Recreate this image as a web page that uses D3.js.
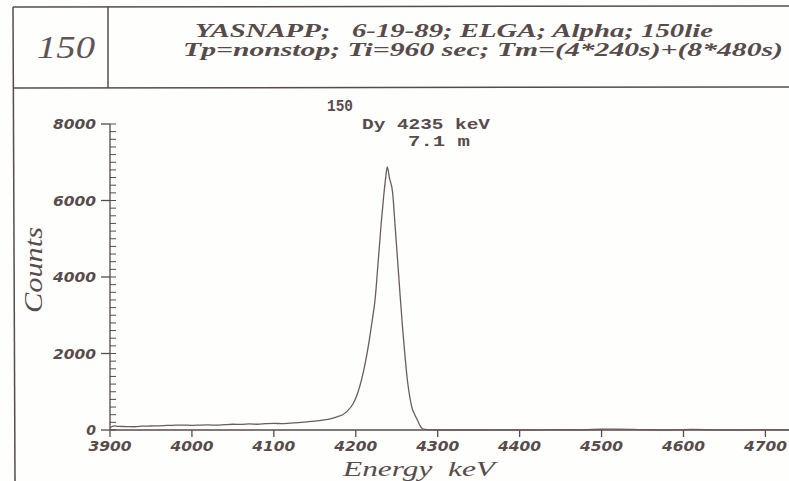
<!DOCTYPE html>
<html><head><meta charset="utf-8">
<script src="https://cdn.jsdelivr.net/npm/d3@7"></script>
<style>
html,body{margin:0;padding:0;background:#fefefc;}
svg{display:block;}
</style></head>
<body>
<svg id="chart" width="789" height="481"></svg>
<script>
// ---- data ----
const headerLine1 = "YASNAPP;   6-19-89; ELGA; Alpha; 150lie";
const headerLine2 = "Tp=nonstop; Ti=960 sec; Tm=(4*240s)+(8*480s)";
const annotation = ["150", "Dy 4235 keV", "7.1 m"];
const xTicks = [3900, 4000, 4100, 4200, 4300, 4400, 4500, 4600, 4700];
const yTicks = [0, 2000, 4000, 6000, 8000];
const energy = [3900,3905,3910,3920,3930,3940,3950,3960,3970,3980,3990,4000,4010,4020,4030,4040,4050,4060,4070,4080,4090,4100,4110,4120,4130,4140,4150,4160,4170,4178,4184,4190,4197,4202,4207,4212,4216.5,4220,4223.5,4227.5,4231,4234,4236.5,4238.5,4241,4245,4248,4251,4254,4257,4260,4263,4266,4269,4272,4275,4278,4281,4285,4290,4300,4320,4350,4380,4410,4440,4470,4500,4520,4550,4580,4610,4640,4670,4700,4730];
const counts = [60,110,95,90,85,100,105,110,120,125,130,120,130,135,125,140,150,145,160,150,165,175,165,180,195,210,230,260,300,350,400,500,700,950,1310,1800,2350,2850,3400,4450,5400,6100,6600,6880,6600,6200,5330,4450,3550,2700,1950,1300,850,550,400,270,130,40,15,5,3,0,0,5,0,10,5,20,25,10,0,15,5,0,10,5];

// ---- drawing ----
const ink = "#574b4c";
const svg = d3.select("#chart");
const x = d3.scaleLinear().domain([3900, 4730]).range([110, 790]);
const y = d3.scaleLinear().domain([0, 8000]).range([430, 124]);

// header frame
const frame = svg.append("g").attr("stroke", ink).attr("stroke-width", 1.5).attr("fill", "none");
frame.append("line").attr("x1", 13).attr("y1", 7).attr("x2", 789).attr("y2", 6);
frame.append("line").attr("x1", 13).attr("y1", 7).attr("x2", 15).attr("y2", 481);
frame.append("line").attr("x1", 108).attr("y1", 7).attr("x2", 108).attr("y2", 88);
frame.append("line").attr("x1", 13).attr("y1", 88).attr("x2", 789).attr("y2", 87);

svg.append("text").text("150")
  .attr("x", 37).attr("y", 58)
  .attr("font-family", "Liberation Serif").attr("font-style", "italic")
  .attr("font-size", 32).attr("fill", "#5f5556")
  .attr("textLength", 58).attr("lengthAdjust", "spacingAndGlyphs");

svg.append("text").text(headerLine1)
  .attr("x", 195).attr("y", 37).attr("xml:space", "preserve")
  .attr("font-family", "Liberation Serif").attr("font-style", "italic").attr("font-weight", "bold")
  .attr("font-size", 18).attr("fill", ink)
  .attr("textLength", 518).attr("lengthAdjust", "spacingAndGlyphs");
svg.append("text").text(headerLine2)
  .attr("x", 183).attr("y", 56)
  .attr("font-family", "Liberation Serif").attr("font-style", "italic").attr("font-weight", "bold")
  .attr("font-size", 18).attr("fill", ink)
  .attr("textLength", 600).attr("lengthAdjust", "spacingAndGlyphs");

// annotation
const annX = [327, 362, 408], annY = [111, 129, 146], annW = [26, 128, 62], annS = [16, 15, 15];
annotation.forEach((t, i) => {
  svg.append("text").text(t).attr("x", annX[i]).attr("y", annY[i])
    .attr("font-family", "Liberation Mono").attr("font-weight", "bold")
    .attr("font-size", annS[i]).attr("fill", ink).attr("xml:space", "preserve")
    .attr("textLength", annW[i]).attr("lengthAdjust", "spacingAndGlyphs");
});

// axes
const axisG = svg.append("g").attr("stroke", ink).attr("stroke-width", 1.3);
axisG.append("line").attr("x1", x(3900)).attr("x2", 789).attr("y1", y(0)).attr("y2", y(0));
axisG.append("line").attr("x1", x(3900)).attr("x2", x(3900)).attr("y1", y(0)).attr("y2", y(8000));
xTicks.forEach(v => {
  axisG.append("line").attr("x1", x(v)).attr("x2", x(v)).attr("y1", y(0)).attr("y2", y(0) + 7);
});
yTicks.forEach(v => {
  axisG.append("line").attr("x1", x(3900) - 9).attr("x2", x(3900)).attr("y1", y(v)).attr("y2", y(v));
});
d3.range(0, 8001, 200).forEach(v => {
  axisG.append("line").attr("x1", x(3900)).attr("x2", x(3900) + 6).attr("y1", y(v)).attr("y2", y(v)).attr("stroke-width", 1);
});

const tickFont = g => g.attr("font-family", "DejaVu Sans").attr("font-weight", "bold")
  .attr("font-style", "italic").attr("font-size", 14).attr("fill", ink)
  .attr("textLength", 43).attr("lengthAdjust", "spacingAndGlyphs");
xTicks.forEach(v => {
  svg.append("text").text(v).attr("x", x(v)).attr("y", 451).attr("text-anchor", "middle").call(tickFont);
});
yTicks.forEach(v => {
  const t = svg.append("text").text(v).attr("x", 96).attr("y", y(v) + 5).attr("text-anchor", "end").call(tickFont);
  if (v === 0) t.attr("textLength", null);
});

// axis titles
svg.append("text").text("Counts")
  .attr("transform", "translate(42,270) rotate(-90)").attr("text-anchor", "middle")
  .attr("font-family", "Liberation Serif").attr("font-style", "italic")
  .attr("font-size", 26).attr("fill", ink)
  .attr("textLength", 86).attr("lengthAdjust", "spacingAndGlyphs");
svg.append("text").text("Energy  keV").attr("xml:space", "preserve")
  .attr("x", 343).attr("y", 476)
  .attr("font-family", "Liberation Serif").attr("font-style", "italic")
  .attr("font-size", 21).attr("fill", ink)
  .attr("textLength", 152).attr("lengthAdjust", "spacingAndGlyphs");

// spectrum
const pts = energy.map((e, i) => [e, counts[i]]);
svg.append("path").datum(pts)
  .attr("fill", "none").attr("stroke", "#6b5c5c").attr("stroke-width", 1.3)
  .attr("d", d3.line().x(d => x(d[0])).y(d => y(d[1])).curve(d3.curveMonotoneX));
</script>
</body></html>
